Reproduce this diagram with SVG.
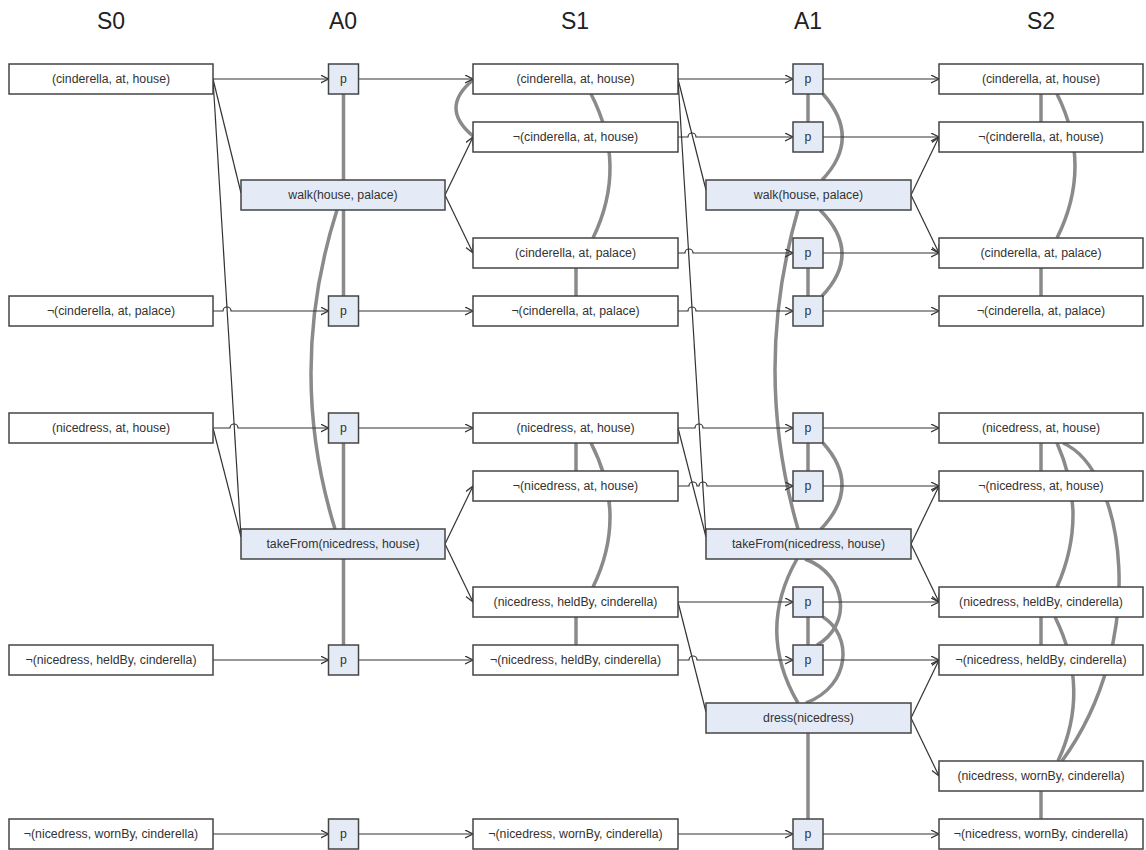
<svg xmlns="http://www.w3.org/2000/svg" width="1146" height="850" viewBox="0 0 1146 850">
<style>
.hdr{font-family:"Liberation Sans",Arial,sans-serif;font-size:23px;fill:#222;text-anchor:middle}
.t{font-family:"Liberation Sans",Arial,sans-serif;font-size:12.3px;fill:#333;text-anchor:middle}
.st{fill:#fff;stroke:#444;stroke-width:1.5}
.ac{fill:#e5ebf6;stroke:#444;stroke-width:1.5}
.m{fill:none;stroke:#8a8a8a;stroke-width:3.5}
.c{fill:none;stroke:#333;stroke-width:1.2}
.a{fill:none;stroke:#333;stroke-width:1.2;marker-end:url(#arr)}
</style>
<defs>
<marker id="arr" markerWidth="10" markerHeight="10" refX="8" refY="4" orient="auto" markerUnits="userSpaceOnUse">
<path d="M0,0 L8,4 L0,8" fill="none" stroke="#333" stroke-width="1.3"/>
</marker>
</defs>
<rect width="1146" height="850" fill="#fff"/>
<g id="headers">
<text class="hdr" x="111" y="29">S0</text>
<text class="hdr" x="343" y="29">A0</text>
<text class="hdr" x="575" y="29">S1</text>
<text class="hdr" x="808" y="29">A1</text>
<text class="hdr" x="1041" y="29">S2</text>
</g>
<g id="connectors">
<g id="mutex">
<path class="m" d="M343.5,94 V296"/>
<path class="m" d="M343.5,443 V645"/>
<path class="m" d="M337,210 Q286,370 335,529"/>
<path class="m" d="M473,80 Q439,108 473,136"/>
<path class="m" d="M591,94 Q628,166 593,238"/>
<path class="m" d="M576,268 V296 M576,443 V471 M576,617 V645"/>
<path class="m" d="M591,443 Q628,515 593,587"/>
<path class="m" d="M808,94 V122 M808,268 V296 M808,443 V471 M808,617 V645 M808,733 V819"/>
<path class="m" d="M823,94 Q862,138 822,180"/>
<path class="m" d="M820,210 Q863,253 822,296"/>
<path class="m" d="M798,210 Q752,370 798,529"/>
<path class="m" d="M823,443 Q862,486 821,529"/>
<path class="m" d="M797,559 Q756,631 798,703"/>
<path class="m" d="M805,559 C848,575 852,625 817,645"/>
<path class="m" d="M823,617 C852,635 852,685 806,703"/>
<path class="m" d="M1041,94 V122 M1041,268 V296 M1041,443 V471 M1041,617 V645 M1041,791 V819"/>
<path class="m" d="M1057,94 Q1093,166 1057,238"/>
<path class="m" d="M1057,443 Q1089,515 1057,587"/>
<path class="m" d="M1055,617 Q1091,690 1058,761"/>
<path class="m" d="M1063,443 C1125,470 1150,640 1062,761"/>
</g>
<g id="preconditions">
<path class="c" d="M213,79 L241,193"/>
<path class="c" d="M213,79 L241,537"/>
<path class="c" d="M213,428 L241,537"/>
<path class="c" d="M678,79 L706,190"/>
<path class="c" d="M678,79 L706,537"/>
<path class="c" d="M678,428 L706,537"/>
<path class="c" d="M678,602 L706,712"/>
</g>
<g id="effects">
<path class="a" d="M445,195 L473,137"/>
<path class="a" d="M445,195 L473,253"/>
<path class="a" d="M445,544 L473,486"/>
<path class="a" d="M445,544 L473,602"/>
<path class="a" d="M911,195 L939,137"/>
<path class="a" d="M911,195 L939,253"/>
<path class="a" d="M911,544 L939,486"/>
<path class="a" d="M911,544 L939,602"/>
<path class="a" d="M911,718 L939,660"/>
<path class="a" d="M911,718 L939,776"/>
</g>
<g id="persistence">
<path class="a" d="M213,79 H328.5"/>
<path class="a" d="M213,311 H223 A4,4 0 0 1 231,311 H328.5"/>
<path class="a" d="M213,428 H230 A4,4 0 0 1 238,428 H328.5"/>
<path class="a" d="M213,660 H328.5"/>
<path class="a" d="M213,834 H328.5"/>
<path class="a" d="M358.5,79 H473"/>
<path class="a" d="M358.5,311 H473"/>
<path class="a" d="M358.5,428 H473"/>
<path class="a" d="M358.5,660 H473"/>
<path class="a" d="M358.5,834 H473"/>
<path class="a" d="M678,79 H793"/>
<path class="a" d="M678,137 H688 A4,4 0 0 1 696,137 H793"/>
<path class="a" d="M678,253 H685 A4,4 0 0 1 693,253 H793"/>
<path class="a" d="M678,311 H688 A4,4 0 0 1 696,311 H793"/>
<path class="a" d="M678,428 H695 A4,4 0 0 1 703,428 H793"/>
<path class="a" d="M678,486 H689 A4,4 0 0 1 697,486 H699 A4,4 0 0 1 707,486 H793"/>
<path class="a" d="M678,602 H793"/>
<path class="a" d="M678,660 H689 A4,4 0 0 1 697,660 H793"/>
<path class="a" d="M678,834 H793"/>
<path class="a" d="M823,79 H939"/>
<path class="a" d="M823,137 H939"/>
<path class="a" d="M823,253 H939"/>
<path class="a" d="M823,311 H939"/>
<path class="a" d="M823,428 H939"/>
<path class="a" d="M823,486 H939"/>
<path class="a" d="M823,602 H939"/>
<path class="a" d="M823,660 H939"/>
<path class="a" d="M823,834 H939"/>
</g>
</g>
<g id="S0">
<g id="s0-cah"><rect class="st" x="9" y="64" width="204" height="30"/><text class="t" x="111" y="83">(cinderella, at, house)</text></g>
<g id="s0-ncap"><rect class="st" x="9" y="296" width="204" height="30"/><text class="t" x="111" y="315">¬(cinderella, at, palace)</text></g>
<g id="s0-nah"><rect class="st" x="9" y="413" width="204" height="30"/><text class="t" x="111" y="432">(nicedress, at, house)</text></g>
<g id="s0-nnhc"><rect class="st" x="9" y="645" width="204" height="30"/><text class="t" x="111" y="664">¬(nicedress, heldBy, cinderella)</text></g>
<g id="s0-nnwc"><rect class="st" x="9" y="819" width="204" height="30"/><text class="t" x="111" y="838">¬(nicedress, wornBy, cinderella)</text></g>
</g>
<g id="A0">
<g id="a0-p0"><rect class="ac" x="328.5" y="64" width="30" height="30"/><text class="t" x="343.5" y="83">p</text></g>
<g id="a0-walk"><rect class="ac" x="241" y="180" width="204" height="30"/><text class="t" x="343" y="199">walk(house, palace)</text></g>
<g id="a0-p4"><rect class="ac" x="328.5" y="296" width="30" height="30"/><text class="t" x="343.5" y="315">p</text></g>
<g id="a0-p6"><rect class="ac" x="328.5" y="413" width="30" height="30"/><text class="t" x="343.5" y="432">p</text></g>
<g id="a0-take"><rect class="ac" x="241" y="529" width="204" height="30"/><text class="t" x="343" y="548">takeFrom(nicedress, house)</text></g>
<g id="a0-p10"><rect class="ac" x="328.5" y="645" width="30" height="30"/><text class="t" x="343.5" y="664">p</text></g>
<g id="a0-p13"><rect class="ac" x="328.5" y="819" width="30" height="30"/><text class="t" x="343.5" y="838">p</text></g>
</g>
<g id="S1">
<g id="s1-cah"><rect class="st" x="473" y="64" width="205" height="30"/><text class="t" x="575.5" y="83">(cinderella, at, house)</text></g>
<g id="s1-ncah"><rect class="st" x="473" y="122" width="205" height="30"/><text class="t" x="575.5" y="141">¬(cinderella, at, house)</text></g>
<g id="s1-cap"><rect class="st" x="473" y="238" width="205" height="30"/><text class="t" x="575.5" y="257">(cinderella, at, palace)</text></g>
<g id="s1-ncap"><rect class="st" x="473" y="296" width="205" height="30"/><text class="t" x="575.5" y="315">¬(cinderella, at, palace)</text></g>
<g id="s1-nah"><rect class="st" x="473" y="413" width="205" height="30"/><text class="t" x="575.5" y="432">(nicedress, at, house)</text></g>
<g id="s1-nnah"><rect class="st" x="473" y="471" width="205" height="30"/><text class="t" x="575.5" y="490">¬(nicedress, at, house)</text></g>
<g id="s1-nhc"><rect class="st" x="473" y="587" width="205" height="30"/><text class="t" x="575.5" y="606">(nicedress, heldBy, cinderella)</text></g>
<g id="s1-nnhc"><rect class="st" x="473" y="645" width="205" height="30"/><text class="t" x="575.5" y="664">¬(nicedress, heldBy, cinderella)</text></g>
<g id="s1-nnwc"><rect class="st" x="473" y="819" width="205" height="30"/><text class="t" x="575.5" y="838">¬(nicedress, wornBy, cinderella)</text></g>
</g>
<g id="A1">
<g id="a1-p0"><rect class="ac" x="793" y="64" width="30" height="30"/><text class="t" x="808" y="83">p</text></g>
<g id="a1-p1"><rect class="ac" x="793" y="122" width="30" height="30"/><text class="t" x="808" y="141">p</text></g>
<g id="a1-walk"><rect class="ac" x="706" y="180" width="205" height="30"/><text class="t" x="808.5" y="199">walk(house, palace)</text></g>
<g id="a1-p3"><rect class="ac" x="793" y="238" width="30" height="30"/><text class="t" x="808" y="257">p</text></g>
<g id="a1-p4"><rect class="ac" x="793" y="296" width="30" height="30"/><text class="t" x="808" y="315">p</text></g>
<g id="a1-p6"><rect class="ac" x="793" y="413" width="30" height="30"/><text class="t" x="808" y="432">p</text></g>
<g id="a1-p7"><rect class="ac" x="793" y="471" width="30" height="30"/><text class="t" x="808" y="490">p</text></g>
<g id="a1-take"><rect class="ac" x="706" y="529" width="205" height="30"/><text class="t" x="808.5" y="548">takeFrom(nicedress, house)</text></g>
<g id="a1-p9"><rect class="ac" x="793" y="587" width="30" height="30"/><text class="t" x="808" y="606">p</text></g>
<g id="a1-p10"><rect class="ac" x="793" y="645" width="30" height="30"/><text class="t" x="808" y="664">p</text></g>
<g id="a1-dress"><rect class="ac" x="706" y="703" width="205" height="30"/><text class="t" x="808.5" y="722">dress(nicedress)</text></g>
<g id="a1-p13"><rect class="ac" x="793" y="819" width="30" height="30"/><text class="t" x="808" y="838">p</text></g>
</g>
<g id="S2">
<g id="s2-cah"><rect class="st" x="939" y="64" width="204" height="30"/><text class="t" x="1041" y="83">(cinderella, at, house)</text></g>
<g id="s2-ncah"><rect class="st" x="939" y="122" width="204" height="30"/><text class="t" x="1041" y="141">¬(cinderella, at, house)</text></g>
<g id="s2-cap"><rect class="st" x="939" y="238" width="204" height="30"/><text class="t" x="1041" y="257">(cinderella, at, palace)</text></g>
<g id="s2-ncap"><rect class="st" x="939" y="296" width="204" height="30"/><text class="t" x="1041" y="315">¬(cinderella, at, palace)</text></g>
<g id="s2-nah"><rect class="st" x="939" y="413" width="204" height="30"/><text class="t" x="1041" y="432">(nicedress, at, house)</text></g>
<g id="s2-nnah"><rect class="st" x="939" y="471" width="204" height="30"/><text class="t" x="1041" y="490">¬(nicedress, at, house)</text></g>
<g id="s2-nhc"><rect class="st" x="939" y="587" width="204" height="30"/><text class="t" x="1041" y="606">(nicedress, heldBy, cinderella)</text></g>
<g id="s2-nnhc"><rect class="st" x="939" y="645" width="204" height="30"/><text class="t" x="1041" y="664">¬(nicedress, heldBy, cinderella)</text></g>
<g id="s2-nwc"><rect class="st" x="939" y="761" width="204" height="30"/><text class="t" x="1041" y="780">(nicedress, wornBy, cinderella)</text></g>
<g id="s2-nnwc"><rect class="st" x="939" y="819" width="204" height="30"/><text class="t" x="1041" y="838">¬(nicedress, wornBy, cinderella)</text></g>
</g>
</svg>
